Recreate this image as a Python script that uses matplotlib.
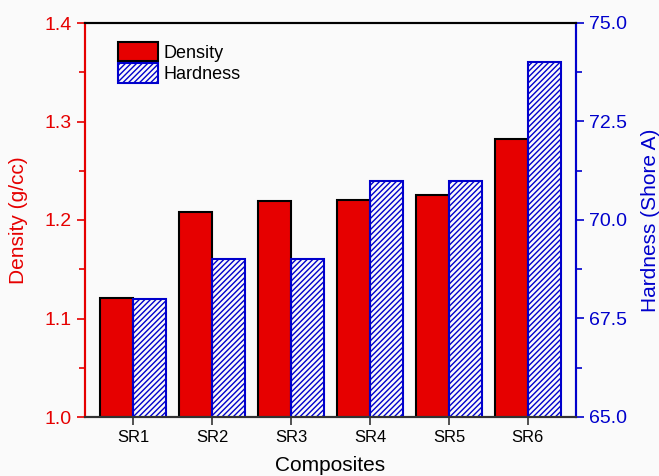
import numpy as np
import matplotlib
matplotlib.use('Agg')
from matplotlib import pyplot as plt
from matplotlib.patches import Patch

plt.rcParams['font.family'] = ['Liberation Sans', 'DejaVu Sans']
plt.rcParams['hatch.linewidth'] = 1.0

# Данные
composites = ['SR1', 'SR2', 'SR3', 'SR4', 'SR5', 'SR6']
density = [1.121, 1.208, 1.219, 1.220, 1.225, 1.282]
hardness = [68.0, 69.0, 69.0, 71.0, 71.0, 74.0]

red = '#e60000'
blue = '#0000cc'

fig = plt.figure(figsize=(6.59, 4.76), dpi=100, facecolor='#fafafa')
ax = fig.add_axes([85 / 659, 59 / 476, 491 / 659, 394 / 476])
ax.set_facecolor('#fafafa')
ax2 = ax.twinx()

x = np.arange(1, len(composites) + 1)
w = 0.42

ax.bar(x - w / 2, density, w, color=red, edgecolor='black', linewidth=1.5, zorder=2)
ax2.bar(x + w / 2, hardness, w, color='none', edgecolor=blue, hatch='//////',
        linewidth=1.5, zorder=2)

ax.set_xlim(0.39, 6.61)
ax.set_ylim(1.0, 1.4)
ax2.set_ylim(65, 75)

ax.set_yticks([1.0, 1.1, 1.2, 1.3, 1.4])
ax.set_yticks([1.05, 1.15, 1.25, 1.35], minor=True)
ax2.set_yticks([65.0, 67.5, 70.0, 72.5, 75.0])
ax2.set_yticks([66.25, 68.75, 71.25, 73.75], minor=True)
ax2.set_yticklabels(['65.0', '67.5', '70.0', '72.5', '75.0'])
ax.set_xticks(x)
ax.set_xticklabels(composites)

ax.tick_params(axis='y', colors=red, labelsize=14, direction='out', length=6, width=1.2)
ax.tick_params(axis='y', which='minor', colors=red, direction='out', length=4, width=1.2)
ax2.tick_params(axis='y', colors=blue, labelsize=14, direction='out', length=6, width=1.2)
ax2.tick_params(axis='y', which='minor', colors=blue, direction='out', length=4, width=1.2)
ax.tick_params(axis='x', colors='#333333', labelcolor='black', labelsize=12,
               direction='out', length=6, width=1.2)

for a in (ax, ax2):
    a.spines['left'].set_color(red)
    a.spines['right'].set_color(blue)
    a.spines['top'].set_color('black')
    a.spines['bottom'].set_color('#333333')
    for s in a.spines.values():
        s.set_linewidth(1.5)

ax.set_ylabel('Density (g/cc)', color=red, fontsize=15, labelpad=12)
ax2.set_ylabel('Hardness (Shore A)', color=blue, fontsize=15, labelpad=10)
ax.set_xlabel('Composites', fontsize=15, labelpad=8)

handles = [Patch(facecolor=red, edgecolor='black', linewidth=1.5, label='Density'),
           Patch(facecolor='none', edgecolor=blue, hatch='//////', linewidth=1.5, label='Hardness')]
ax.legend(handles=handles, loc='upper left', bbox_to_anchor=(0.045, 0.98), frameon=False,
          fontsize=13, handlelength=2.2, handleheight=1.3, handletextpad=0.3,
          labelspacing=0.1, borderaxespad=0.2)

fig.savefig('out.png', dpi=100, facecolor=fig.get_facecolor())
